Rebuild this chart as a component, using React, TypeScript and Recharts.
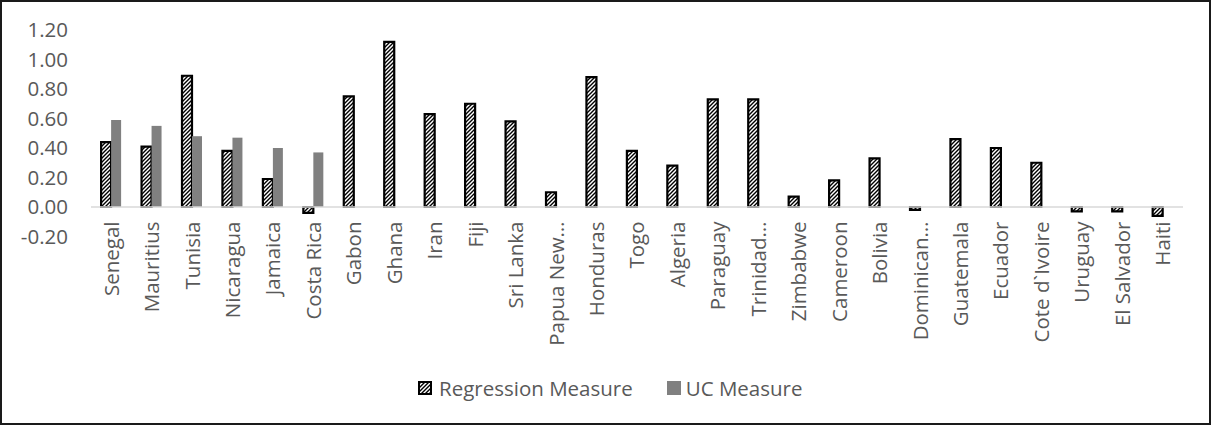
import React from "react";
import { BarChart, Bar, XAxis, YAxis, ReferenceLine } from "recharts";

// tick labels as Excel truncates them
const countries = [
  "Senegal", "Mauritius", "Tunisia", "Nicaragua", "Jamaica", "Costa Rica", "Gabon", "Ghana",
  "Iran", "Fiji", "Sri Lanka", "Papua New…", "Honduras", "Togo", "Algeria", "Paraguay",
  "Trinidad…", "Zimbabwe", "Cameroon", "Bolivia", "Dominican…", "Guatemala",
  "Ecuador", "Cote d`Ivoire", "Uruguay", "El Salvador", "Haiti",
];

const regressionMeasure = [
  0.44, 0.41, 0.89, 0.38, 0.19, -0.04, 0.75, 1.12, 0.63, 0.70, 0.58, 0.10, 0.88, 0.38,
  0.28, 0.73, 0.73, 0.07, 0.18, 0.33, -0.02, 0.46, 0.40, 0.30, -0.03, -0.03, -0.06,
];

const ucMeasure: (number | null)[] = [
  0.59, 0.55, 0.48, 0.47, 0.40, 0.37, null, null, null, null, null, null, null, null,
  null, null, null, null, null, null, null, null, null, null, null, null, null,
];

const yTicks = [-0.2, 0, 0.2, 0.4, 0.6, 0.8, 1.0, 1.2];

const data = countries.map((c, i) => ({
  country: c,
  regression: regressionMeasure[i],
  uc: ucMeasure[i],
}));

const FONT = "'Open Sans', sans-serif";
const TEXT = "#595959";
const GREY = "#808080";
const FS = 20.5;

const CategoryTick = (props: any) => {
  const { x, y, payload } = props;
  return (
    <text
      transform={`translate(${x},${y - 15}) rotate(-90)`}
      textAnchor="end"
      dy="0.36em"
      fill={TEXT}
      fontSize={FS}
      fontFamily={FONT}
    >
      {payload.value}
    </text>
  );
};

const hatchPath = "M-1,1 l2,-2 M0,4 l4,-4 M3,5 l2,-2";

const HatchIcon = () => (
  <svg width={14} height={14} style={{ display: "block" }}>
    <defs>
      <pattern id="hatchIcon" patternUnits="userSpaceOnUse" width={4} height={4}>
        <rect width={4} height={4} fill="#fff" />
        <path d={hatchPath} stroke="#000" strokeWidth={1.4} />
      </pattern>
    </defs>
    <rect x={1} y={1} width={12} height={12} fill="url(#hatchIcon)" stroke="#000" strokeWidth={2} />
  </svg>
);

export default function App() {
  return (
    <div style={{ position: "absolute", left: 0, top: 0, width: 1213, height: 426, background: "#fff" }}>
      <BarChart
        width={1213}
        height={426}
        data={data}
        margin={{ top: 30, right: 30, left: 31, bottom: 69.5 }}
        barCategoryGap="25%"
        barGap={0}
      >
        <defs>
          <pattern id="hatch" patternUnits="userSpaceOnUse" width={4} height={4}>
            <rect width={4} height={4} fill="#fff" />
            <path d={hatchPath} stroke="#000" strokeWidth={1.4} />
          </pattern>
        </defs>
        <XAxis
          dataKey="country"
          interval={0}
          height={120}
          axisLine={false}
          tickLine={false}
          tickSize={0}
          tickMargin={0}
          tick={<CategoryTick />}
        />
        <YAxis
          width={60}
          domain={[-0.2, 1.2]}
          ticks={yTicks}
          interval={0}
          axisLine={false}
          tickLine={false}
          tickSize={0}
          tickMargin={23}
          tickFormatter={(v: number) => v.toFixed(2)}
          tick={{ fill: TEXT, fontSize: FS, fontFamily: FONT }}
        />
        <ReferenceLine y={0} stroke="#d9d9d9" strokeWidth={1.5} />
        <Bar
          dataKey="regression"
          fill="url(#hatch)"
          stroke="#000"
          strokeWidth={2.2}
          isAnimationActive={false}
        />
        <Bar dataKey="uc" fill={GREY} isAnimationActive={false} />
      </BarChart>

      <div
        style={{
          position: "absolute",
          top: 374,
          left: 418,
          display: "flex",
          alignItems: "center",
          fontFamily: FONT,
          fontSize: FS,
          color: TEXT,
          whiteSpace: "nowrap",
        }}
      >
        <HatchIcon />
        <span style={{ marginLeft: 7, marginRight: 34 }}>Regression Measure</span>
        <span style={{ width: 14, height: 14, background: GREY, display: "block" }} />
        <span style={{ marginLeft: 5 }}>UC Measure</span>
      </div>

      <div
        style={{
          position: "absolute",
          left: 0,
          top: 0,
          width: 1211,
          height: 425,
          border: "2px solid #1a1a1a",
          boxSizing: "border-box",
          pointerEvents: "none",
        }}
      />
    </div>
  );
}
